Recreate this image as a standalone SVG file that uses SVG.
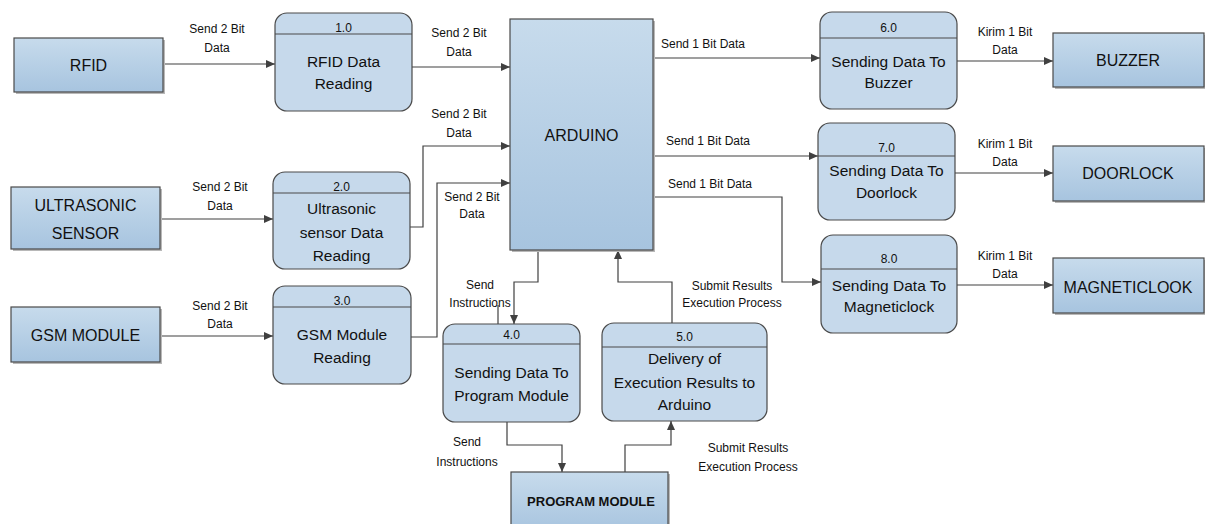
<svg xmlns="http://www.w3.org/2000/svg" width="1205" height="524" viewBox="0 0 1205 524">
<defs>
<linearGradient id="eg" x1="0" y1="0" x2="0" y2="1">
<stop offset="0" stop-color="#c7dbec"/>
<stop offset="1" stop-color="#a7c4df"/>
</linearGradient>
<marker id="ah" markerUnits="userSpaceOnUse" markerWidth="9" markerHeight="8" refX="9" refY="4" orient="auto">
<path d="M0,0 L9,4 L0,8 z" fill="#404040"/>
</marker>
</defs>
<style>
.ent{fill:url(#eg);stroke:#4a4a4a;stroke-width:1.2}
.sh{fill:#b8b8b8}
.proc{fill:#c6d9eb;stroke:#4a4a4a;stroke-width:1.2}
.hl{stroke:#4a4a4a;stroke-width:1.2}
.et{font-family:"Liberation Sans",Arial,sans-serif;font-size:16px;fill:#111;text-anchor:middle}
.pt{font-family:"Liberation Sans",Arial,sans-serif;font-size:15.5px;fill:#111;text-anchor:middle}
.num{font-family:"Liberation Sans",Arial,sans-serif;font-size:12px;fill:#111;text-anchor:middle}
.lb{font-family:"Liberation Sans",Arial,sans-serif;font-size:12px;fill:#111;text-anchor:middle}
.cn{fill:none;stroke:#404040;stroke-width:1.2;marker-end:url(#ah)}
</style>
<rect width="1205" height="524" fill="#ffffff"/>

<g id="connectors">
<path class="cn" d="M163,64 H275"/>
<path class="cn" d="M412,67 H510"/>
<path class="cn" d="M160,219 H273"/>
<path class="cn" d="M410,227 H423 V146 H510"/>
<path class="cn" d="M160,336 H273"/>
<path class="cn" d="M411,337 H437 V183 H510"/>
<path class="cn" d="M653,58 H820"/>
<path class="cn" d="M653,156 H818"/>
<path class="cn" d="M653,197 H782 V282 H821"/>
<path class="cn" d="M957,61 H1053"/>
<path class="cn" d="M955,173 H1053"/>
<path class="cn" d="M957,285 H1053"/>
<path class="cn" d="M538,250 V282 H514 V324"/>
<path class="cn" d="M672,323 V282 H618 V250"/>
<path class="cn" d="M507,422 V445 H562 V472"/>
<path class="cn" d="M625,472 V445 H671 V421"/>
<path d="M498,305 V324" fill="none" stroke="#404040" stroke-width="1.2"/>
<text class="lb" x="217" y="33">Send 2 Bit</text>
<text class="lb" x="217" y="52">Data</text>
<text class="lb" x="459" y="37">Send 2 Bit</text>
<text class="lb" x="459" y="56">Data</text>
<text class="lb" x="220" y="191">Send 2 Bit</text>
<text class="lb" x="220" y="210">Data</text>
<text class="lb" x="459" y="118">Send 2 Bit</text>
<text class="lb" x="459" y="137">Data</text>
<text class="lb" x="220" y="310">Send 2 Bit</text>
<text class="lb" x="220" y="328">Data</text>
<text class="lb" x="472" y="201">Send 2 Bit</text>
<text class="lb" x="472" y="218">Data</text>
<text class="lb" x="703" y="48">Send 1 Bit Data</text>
<text class="lb" x="708" y="145">Send 1 Bit Data</text>
<text class="lb" x="710" y="188">Send 1 Bit Data</text>
<text class="lb" x="1005" y="36">Kirim 1 Bit</text>
<text class="lb" x="1005" y="54">Data</text>
<text class="lb" x="1005" y="148">Kirim 1 Bit</text>
<text class="lb" x="1005" y="166">Data</text>
<text class="lb" x="1005" y="260">Kirim 1 Bit</text>
<text class="lb" x="1005" y="278">Data</text>
<text class="lb" x="480" y="289">Send</text>
<text class="lb" x="480" y="307">Instructions</text>
<text class="lb" x="732" y="290">Submit Results</text>
<text class="lb" x="732" y="307">Execution Process</text>
<text class="lb" x="467" y="446">Send</text>
<text class="lb" x="467" y="466">Instructions</text>
<text class="lb" x="748" y="452">Submit Results</text>
<text class="lb" x="748" y="471">Execution Process</text>
</g>

<g id="rfid">
<rect class="sh" x="16" y="40" width="149" height="54"/>
<rect class="ent" x="14" y="38" width="149" height="54"/>
<text class="et" x="88.5" y="71">RFID</text>
</g>
<g id="ultrasonic">
<rect class="sh" x="13" y="189" width="149" height="62"/>
<rect class="ent" x="11" y="187" width="149" height="62"/>
<text class="et" x="85.5" y="211">ULTRASONIC</text>
<text class="et" x="85.5" y="239">SENSOR</text>
</g>
<g id="gsm">
<rect class="sh" x="13" y="309" width="149" height="55"/>
<rect class="ent" x="11" y="307" width="149" height="55"/>
<text class="et" x="85.5" y="341">GSM MODULE</text>
</g>
<g id="arduino">
<rect class="sh" x="512" y="21" width="143" height="231"/>
<rect class="ent" x="510" y="19" width="143" height="231"/>
<text class="et" x="581.5" y="141">ARDUINO</text>
</g>
<g id="buzzer">
<rect class="sh" x="1055" y="35" width="151" height="54"/>
<rect class="ent" x="1053" y="33" width="151" height="54"/>
<text class="et" x="1128" y="66">BUZZER</text>
</g>
<g id="doorlock">
<rect class="sh" x="1055" y="148" width="151" height="55"/>
<rect class="ent" x="1053" y="146" width="151" height="55"/>
<text class="et" x="1128" y="179">DOORLOCK</text>
</g>
<g id="magneticlook">
<rect class="sh" x="1055" y="260" width="151" height="55"/>
<rect class="ent" x="1053" y="258" width="151" height="55"/>
<text class="et" x="1128" y="293">MAGNETICLOOK</text>
</g>
<g id="program-module">
<rect class="sh" x="513" y="474" width="157" height="60"/>
<rect class="ent" x="511" y="472" width="157" height="60"/>
<text class="et" x="591" y="506" style="font-size:13px;font-weight:bold">PROGRAM MODULE</text>
</g>

<g id="p1">
<rect class="proc" x="275" y="13" width="137" height="98" rx="12"/>
<line class="hl" x1="275" y1="34" x2="412" y2="34"/>
<text class="num" x="343.5" y="32">1.0</text>
<text class="pt" x="343.5" y="67">RFID Data</text>
<text class="pt" x="343.5" y="89">Reading</text>
</g>
<g id="p2">
<rect class="proc" x="273" y="172" width="137" height="97" rx="12"/>
<line class="hl" x1="273" y1="193" x2="410" y2="193"/>
<text class="num" x="341.5" y="191">2.0</text>
<text class="pt" x="341.5" y="214">Ultrasonic</text>
<text class="pt" x="341.5" y="238">sensor Data</text>
<text class="pt" x="341.5" y="261">Reading</text>
</g>
<g id="p3">
<rect class="proc" x="273" y="286" width="138" height="98" rx="12"/>
<line class="hl" x1="273" y1="307" x2="411" y2="307"/>
<text class="num" x="342" y="305">3.0</text>
<text class="pt" x="342" y="340">GSM Module</text>
<text class="pt" x="342" y="363">Reading</text>
</g>
<g id="p4">
<rect class="proc" x="443" y="324" width="137" height="98" rx="12"/>
<line class="hl" x1="443" y1="344" x2="580" y2="344"/>
<text class="num" x="511.5" y="339">4.0</text>
<text class="pt" x="511.5" y="378">Sending Data To</text>
<text class="pt" x="511.5" y="401">Program Module</text>
</g>
<g id="p5">
<rect class="proc" x="602" y="323" width="165" height="98" rx="12"/>
<line class="hl" x1="602" y1="347" x2="767" y2="347"/>
<text class="num" x="684.5" y="341">5.0</text>
<text class="pt" x="684.5" y="364">Delivery of</text>
<text class="pt" x="684.5" y="388">Execution Results to</text>
<text class="pt" x="684.5" y="410">Arduino</text>
</g>
<g id="p6">
<rect class="proc" x="820" y="12" width="137" height="97" rx="12"/>
<line class="hl" x1="820" y1="38" x2="957" y2="38"/>
<text class="num" x="888.5" y="32">6.0</text>
<text class="pt" x="888.5" y="67">Sending Data To</text>
<text class="pt" x="888.5" y="88">Buzzer</text>
</g>
<g id="p7">
<rect class="proc" x="818" y="123" width="137" height="97" rx="12"/>
<line class="hl" x1="818" y1="156" x2="955" y2="156"/>
<text class="num" x="886.5" y="152">7.0</text>
<text class="pt" x="886.5" y="176">Sending Data To</text>
<text class="pt" x="886.5" y="198">Doorlock</text>
</g>
<g id="p8">
<rect class="proc" x="821" y="235" width="136" height="98" rx="12"/>
<line class="hl" x1="821" y1="269" x2="957" y2="269"/>
<text class="num" x="889" y="263">8.0</text>
<text class="pt" x="889" y="291">Sending Data To</text>
<text class="pt" x="889" y="312">Magneticlock</text>
</g>
</svg>
